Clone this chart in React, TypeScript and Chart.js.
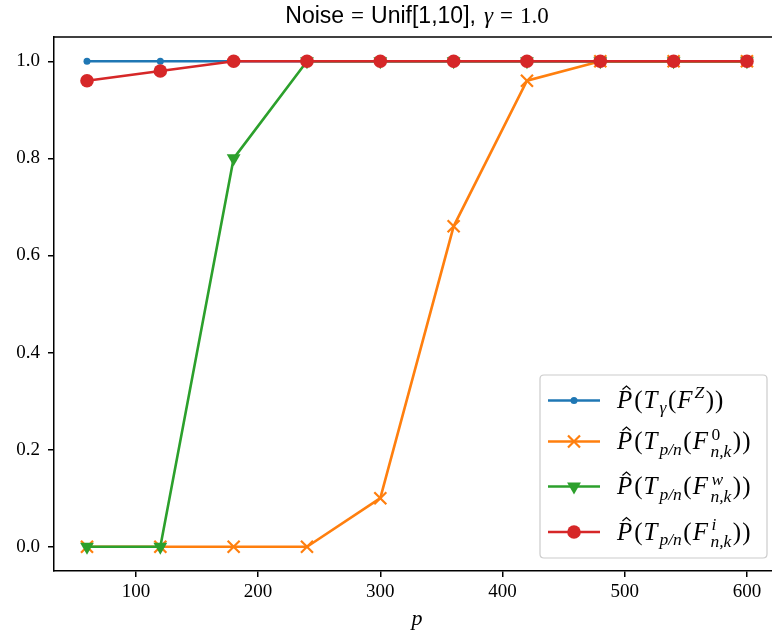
import React, { useEffect, useRef } from 'react';
import { Chart, registerables } from 'chart.js';

Chart.register(...registerables);

// ---- data ----
const pValues = [60, 120, 180, 240, 300, 360, 420, 480, 540, 600];
const gammaSeries = [1, 1, 1, 1, 1, 1, 1, 1, 1, 1];
const zeroSeries = [0, 0, 0, 0, 0.1, 0.66, 0.96, 1, 1, 1];
const weightSeries = [0, 0, 0.8, 1, 1, 1, 1, 1, 1, 1];
const idSeries = [0.96, 0.98, 1, 1, 1, 1, 1, 1, 1, 1];
const xTicks = [100, 200, 300, 400, 500, 600];
const yTicks = [0, 0.2, 0.4, 0.6, 0.8, 1.0];
const seriesColors = ['#1f77b4', '#ff7f0e', '#2ca02c', '#d62728'];
const xAxisLabel = 'p';

type Tok = { t?: string; it?: boolean; sc?: number; dy?: number; hat?: boolean; sup?: Tok; sub?: Tok };

const baseTokens = (inner: Tok[]): Tok[] => [
  { t: 'P', it: true, hat: true },
  { t: '(' },
  { t: 'T', it: true },
  ...inner,
  { t: ')' },
];
const pn: Tok = { t: 'p/n', it: true, sc: 0.7, dy: 0.22 };
const legendLabels: Tok[][] = [
  baseTokens([{ t: 'γ', it: true, sc: 0.7, dy: 0.2 }, { t: '(' }, { t: 'F', it: true }, { t: 'Z', it: true, sc: 0.7, dy: -0.4 }, { t: ')' }]),
  baseTokens([pn, { t: '(' }, { t: 'F', it: true }, { sup: { t: '0', sc: 0.7, dy: -0.38 }, sub: { t: 'n,k', it: true, sc: 0.7, dy: 0.3 } }, { t: ')' }]),
  baseTokens([pn, { t: '(' }, { t: 'F', it: true }, { sup: { t: 'w', it: true, sc: 0.7, dy: -0.38 }, sub: { t: 'n,k', it: true, sc: 0.7, dy: 0.3 } }, { t: ')' }]),
  baseTokens([pn, { t: '(' }, { t: 'F', it: true }, { sup: { t: 'i', it: true, sc: 0.7, dy: -0.38 }, sub: { t: 'n,k', it: true, sc: 0.7, dy: 0.3 } }, { t: ')' }]),
];

const SERIF = '"Liberation Serif", "DejaVu Serif", serif';
const SANS = '"Liberation Sans", "DejaVu Sans", sans-serif';

function fontFor(tok: Tok, size: number) {
  const s = size * (tok.sc ?? 1);
  return `${tok.it ? 'italic ' : ''}${s}px ${SERIF}`;
}

function drawMath(ctx: CanvasRenderingContext2D, tokens: Tok[], x: number, y: number, size: number) {
  let cx = x;
  ctx.textBaseline = 'alphabetic';
  ctx.textAlign = 'left';
  const drawTok = (tok: Tok, px: number) => {
    ctx.font = fontFor(tok, size);
    const by = y + (tok.dy ?? 0) * size;
    ctx.fillText(tok.t as string, px, by);
    const w = ctx.measureText(tok.t as string).width;
    if (tok.hat) {
      const top = by - size * 0.66;
      const hx = px + w * 0.62;
      ctx.save();
      ctx.beginPath();
      ctx.lineWidth = 1.2;
      ctx.moveTo(hx - 4, top - 2);
      ctx.lineTo(hx, top - 5.5);
      ctx.lineTo(hx + 4, top - 2);
      ctx.stroke();
      ctx.restore();
    }
    return w;
  };
  for (const tok of tokens) {
    if (tok.sup || tok.sub) {
      const w1 = tok.sup ? drawTok(tok.sup, cx + 1.5) : 0;
      const w2 = tok.sub ? drawTok(tok.sub, cx + 0.5) : 0;
      cx += Math.max(w1 + 1.5, w2 + 0.5) + 1.5;
    } else {
      const w = drawTok(tok, cx);
      cx += w + (tok.sc ? 1.5 : tok.it ? size * 0.08 : size * 0.04);
    }
  }
}

function drawMarker(ctx: CanvasRenderingContext2D, i: number, x: number, y: number) {
  const c = seriesColors[i];
  ctx.save();
  ctx.fillStyle = c;
  ctx.strokeStyle = c;
  if (i === 0 || i === 3) {
    ctx.beginPath();
    ctx.arc(x, y, i === 0 ? 3.5 : 6.8, 0, Math.PI * 2);
    ctx.fill();
  } else if (i === 1) {
    const d = 6;
    ctx.lineWidth = 2.2;
    ctx.beginPath();
    ctx.moveTo(x - d, y - d);
    ctx.lineTo(x + d, y + d);
    ctx.moveTo(x + d, y - d);
    ctx.lineTo(x - d, y + d);
    ctx.stroke();
  } else {
    const r = 8;
    ctx.beginPath();
    ctx.moveTo(x, y + r);
    ctx.lineTo(x - r * Math.sin(Math.PI / 3), y - r / 2);
    ctx.lineTo(x + r * Math.sin(Math.PI / 3), y - r / 2);
    ctx.closePath();
    ctx.fill();
  }
  ctx.restore();
}

type Seg = { t: string; f: string; gap?: number };

const decorPlugin = {
  id: 'decor',
  afterDraw(chart: any) {
    const ctx: CanvasRenderingContext2D = chart.ctx;
    const a = chart.chartArea;
    ctx.save();
    // top spine
    ctx.strokeStyle = '#000';
    ctx.lineWidth = 1.5;
    ctx.beginPath();
    ctx.moveTo(a.left - 0.75, a.top);
    ctx.lineTo(a.right, a.top);
    ctx.stroke();

    // title (mixed text / math)
    const axCenter = 417;
    const ts = 23;
    const segs: Seg[] = [
      { t: 'Noise', f: `${ts}px ${SANS}` },
      { t: '=', f: `${ts}px ${SERIF}`, gap: 7 },
      { t: 'Unif[1,10],', f: `${ts}px ${SANS}`, gap: 7 },
      { t: 'γ', f: `italic ${ts}px ${SERIF}`, gap: 8 },
      { t: '=', f: `${ts}px ${SERIF}`, gap: 7 },
      { t: '1.0', f: `${ts}px ${SERIF}`, gap: 7 },
    ];
    ctx.fillStyle = '#000';
    ctx.textBaseline = 'alphabetic';
    ctx.textAlign = 'left';
    let total = 0;
    const widths = segs.map((s) => {
      ctx.font = s.f;
      const w = ctx.measureText(s.t).width;
      total += w + (s.gap ?? 0);
      return w;
    });
    let tx = axCenter - total / 2;
    const ty = 23;
    segs.forEach((s, i) => {
      tx += s.gap ?? 0;
      ctx.font = s.f;
      ctx.fillText(s.t, tx, ty);
      tx += widths[i];
    });

    // x axis label
    ctx.font = `italic 22px ${SERIF}`;
    ctx.textAlign = 'center';
    ctx.fillText(xAxisLabel, axCenter, 625);

    // legend
    const lx = 540, ly = 375, lw = 227, lh = 183, rr = 4;
    ctx.beginPath();
    ctx.moveTo(lx + rr, ly);
    ctx.lineTo(lx + lw - rr, ly);
    ctx.quadraticCurveTo(lx + lw, ly, lx + lw, ly + rr);
    ctx.lineTo(lx + lw, ly + lh - rr);
    ctx.quadraticCurveTo(lx + lw, ly + lh, lx + lw - rr, ly + lh);
    ctx.lineTo(lx + rr, ly + lh);
    ctx.quadraticCurveTo(lx, ly + lh, lx, ly + lh - rr);
    ctx.lineTo(lx, ly + rr);
    ctx.quadraticCurveTo(lx, ly, lx + rr, ly);
    ctx.closePath();
    ctx.fillStyle = 'rgba(255,255,255,0.8)';
    ctx.fill();
    ctx.strokeStyle = '#cccccc';
    ctx.lineWidth = 1.2;
    ctx.stroke();

    const rows = [400.5, 441.5, 486.5, 532];
    rows.forEach((ry, i) => {
      ctx.strokeStyle = seriesColors[i];
      ctx.lineWidth = 2.6;
      ctx.beginPath();
      ctx.moveTo(548, ry);
      ctx.lineTo(600, ry);
      ctx.stroke();
      drawMarker(ctx, i, 574, ry);
      ctx.fillStyle = '#000';
      ctx.strokeStyle = '#000';
      drawMath(ctx, legendLabels[i], 617, ry + 7.5, 25);
    });
    ctx.restore();
  },
};

const mk = (arr: number[]) => pValues.map((p, i) => ({ x: p, y: arr[i] }));

export default function App() {
  const ref = useRef<HTMLCanvasElement | null>(null);
  useEffect(() => {
    if (!ref.current) return;
    const tickFont = { family: SERIF, size: 19 };
    const chart = new Chart(ref.current, {
      type: 'line',
      data: {
        datasets: [
          {
            data: mk(gammaSeries), borderColor: seriesColors[0], backgroundColor: seriesColors[0],
            pointStyle: 'circle', pointRadius: 3.5, pointBorderWidth: 0, borderWidth: 2.6, order: 3,
          },
          {
            data: mk(zeroSeries), borderColor: seriesColors[1], backgroundColor: seriesColors[1],
            pointStyle: 'crossRot', pointRadius: 8.5, pointBorderWidth: 2.2, borderWidth: 2.6, order: 2,
          },
          {
            data: mk(weightSeries), borderColor: seriesColors[2], backgroundColor: seriesColors[2],
            pointStyle: 'triangle', pointRotation: 180, pointRadius: 8, pointBorderWidth: 0, borderWidth: 2.6, order: 1,
          },
          {
            data: mk(idSeries), borderColor: seriesColors[3], backgroundColor: seriesColors[3],
            pointStyle: 'circle', pointRadius: 6.8, pointBorderWidth: 0, borderWidth: 2.6, order: 0,
          },
        ] as any,
      },
      options: {
        animation: false,
        responsive: false,
        maintainAspectRatio: false,
        layout: { autoPadding: false, padding: { top: 37, left: 0, right: 0, bottom: 0 } },
        elements: { line: { tension: 0 } },
        plugins: { legend: { display: false }, title: { display: false }, tooltip: { enabled: false } },
        scales: {
          x: {
            type: 'linear',
            min: 33,
            max: 620.5,
            afterBuildTicks: (s: any) => { s.ticks = xTicks.map((v) => ({ value: v })); },
            afterFit: (s: any) => { s.height = 63; },
            grid: { drawOnChartArea: false, drawTicks: true, tickLength: 6, color: '#000', lineWidth: 1.5 },
            border: { display: true, color: '#000', width: 1.5 },
            ticks: { color: '#000', font: tickFont, padding: 4, maxRotation: 0, autoSkip: false, callback: (v: any) => String(v) },
          },
          y: {
            type: 'linear',
            min: -0.05,
            max: 1.05,
            afterBuildTicks: (s: any) => { s.ticks = yTicks.map((v) => ({ value: v })); },
            afterFit: (s: any) => { s.width = 54; },
            grid: { drawOnChartArea: false, drawTicks: true, tickLength: 6, color: '#000', lineWidth: 1.5 },
            border: { display: true, color: '#000', width: 1.5 },
            ticks: { color: '#000', font: tickFont, padding: 8, autoSkip: false, callback: (v: any) => Number(v).toFixed(1) },
          },
        },
      } as any,
      plugins: [decorPlugin],
    });
    return () => chart.destroy();
  }, []);
  return (
    <div style={{ position: 'absolute', left: 0, top: 0, width: 772, height: 634, background: '#fff' }}>
      <canvas ref={ref} width={772} height={634} style={{ display: 'block', width: 772, height: 634 }} />
    </div>
  );
}
